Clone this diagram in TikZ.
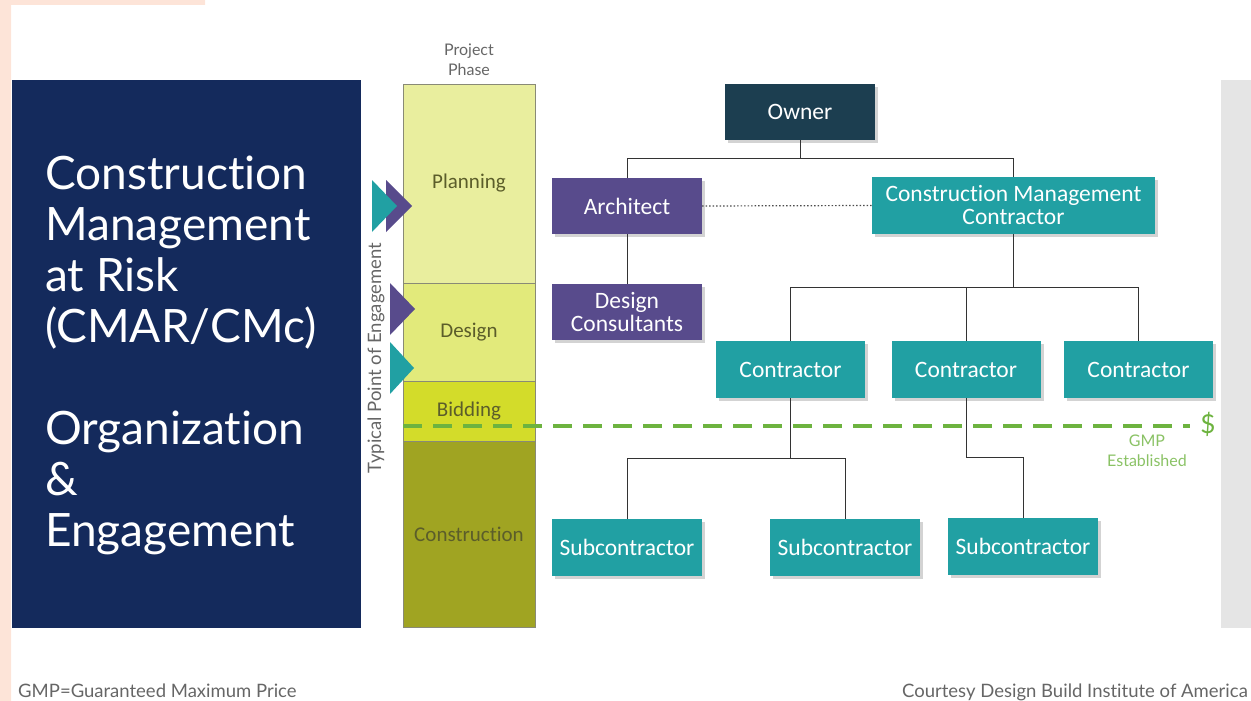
\documentclass[tikz,border=0pt]{standalone}
\usepackage{fontspec}
\setmainfont{Lato}[Ligatures=NoCommon]
\newfontfamily\boxfont{Carlito}[Ligatures=NoCommon]
\usetikzlibrary{positioning, shadows}

\definecolor{titleblue}{HTML}{142A5C}
\definecolor{ownerblue}{HTML}{1C3E50}
\definecolor{archpurple}{HTML}{584B8C}
\definecolor{cmteal}{HTML}{21A0A3}
\definecolor{planfill}{HTML}{E9EE9E}
\definecolor{designfill}{HTML}{E2EA7B}
\definecolor{bidfill}{HTML}{D3DC2A}
\definecolor{buildfill}{HTML}{A0A422}
\definecolor{phasetext}{HTML}{5B5D2A}
\definecolor{gmpgreen}{HTML}{6DB33F}
\definecolor{notegray}{HTML}{666666}
\definecolor{peach}{HTML}{FDE4D8}

\tikzset{
	orgbox/.style={minimum width=150pt, minimum height=56pt, inner sep=0pt, text=white, align=center,
		font=\boxfont\fontsize{23.5}{27}\selectfont,
		drop shadow={shadow xshift=3pt, shadow yshift=-3pt, opacity=0.35}},
	archbox/.style={orgbox, fill=archpurple},
	cmbox/.style={orgbox, fill=cmteal},
	phase/.style={draw=black!35!phasetext!60, minimum width=132pt, inner sep=0pt, outer sep=0pt,
		text=phasetext, font=\boxfont\fontsize{21}{24}\selectfont},
	conn/.style={draw=black!80, line width=0.9pt},
	gmp/.style={draw=gmpgreen, line width=4pt, dash pattern=on 19pt off 11pt},
	note/.style={text=notegray, font=\fontsize{18.5}{22}\selectfont, inner sep=0pt}
}

\begin{document}
\begin{tikzpicture}[x=1pt, y=-1pt]
	\useasboundingbox (0,0) rectangle (1251,701);
	\fill[peach] (0,0) rectangle (11,701) (0,0) rectangle (205,5);
	\fill[black!10] (1221,80) rectangle (1251,628);
	\fill[titleblue] (12,80) rectangle (361,628);

	\node[anchor=north west, inner sep=0pt, align=left, text=white, font=\fontsize{46}{51}\selectfont] (title) at (45,156)
		{Construction\\Management\\at Risk\\(CMAR/CMc)\\[51pt]Organization\\\&\\Engagement};

	% project phases
	\node[align=center, text=notegray, font=\fontsize{16}{20}\selectfont] (phasehead) at (469,60) {Project\\Phase};
	\node[phase, fill=planfill, minimum height=199pt] (plan) at (469,183.5) {Planning};
	\node[phase, fill=designfill, minimum height=98pt, below=0pt of plan] (design) {Design};
	\node[phase, fill=bidfill, minimum height=60pt, below=0pt of design] (bid) {Bidding};
	\node[phase, fill=buildfill, minimum height=186pt, below=0pt of bid] (build) {Construction};
	\node[rotate=90, text=notegray, font=\fontsize{18.5}{22}\selectfont] (engage) at (376,358) {Typical Point of Engagement};

	\fill[archpurple] (386,180) -- (412,206) -- (386,232) -- cycle;
	\fill[cmteal] (372,180) -- (397,206) -- (372,232) -- cycle;
	\fill[archpurple] (390,283) -- (415,309) -- (390,335) -- cycle;
	\fill[cmteal] (390,342) -- (414,368) -- (390,394) -- cycle;

	% organization
	\node[orgbox, fill=ownerblue] (owner) at (800,112) {Owner};
	\node[archbox] (architect) at (627,206) {Architect};
	\node[archbox, below=50pt of architect] (consult) {Design\\[-4pt]Consultants};
	\node[cmbox, minimum width=283pt, minimum height=57pt] (cmc) at (1013.5,205.5) {Construction Management\\[-4pt]Contractor};
	\node[cmbox, minimum width=149pt, minimum height=57pt] (con1) at (790.5,369.5) {Contractor};
	\node[cmbox, minimum width=149pt, minimum height=57pt] (con2) at (966,369.5) {Contractor};
	\node[cmbox, minimum width=149pt, minimum height=57pt] (con3) at (1138.5,369.5) {Contractor};
	\node[cmbox, minimum height=57pt] (sub1) at (627,547.5) {Subcontractor};
	\node[cmbox, minimum height=57pt] (sub2) at (845,547.5) {Subcontractor};
	\node[cmbox, minimum height=57pt] (sub3) at (1023,546.5) {Subcontractor};

	\draw[conn]
		(owner.south) -- ++(0,18) -| (architect.north)
		(owner.south) -- ++(0,18) -| (cmc.north)
		(architect.south) -- (consult.north)
		(cmc.south) -- ++(0,53) -| (con1.north)
		(cmc.south) -- ++(0,53) -| (con2.north)
		(cmc.south) -- ++(0,53) -| (con3.north)
		(con1.south) -- ++(0,60) -| (sub1.north)
		(con1.south) -- ++(0,60) -| (sub2.north)
		(con2.south) -- ++(0,59) -| (sub3.north);
	\draw[conn, draw=black!70, line width=1.2pt, dash pattern=on 1.5pt off 2pt] (architect.east) -- (cmc.west);

	% GMP line
	\node[text=gmpgreen, font=\fontsize{26}{30}\selectfont, inner sep=0pt] (dollar) at (1208,424) {\$};
	\node[align=center, text=gmpgreen!80!white, font=\fontsize{16}{20}\selectfont] (gmptext) at (1147,451) {GMP\\Established};
	\coordinate (gmpstart) at (403,426);
	\draw[gmp] (gmpstart) -- ([xshift=-10pt]dollar.west |- gmpstart);

	\node[note, anchor=base west] (gmpnote) at (18,697) {GMP=Guaranteed Maximum Price};
	\node[note, anchor=base east] (credit) at (1248,697) {Courtesy Design Build Institute of America};
\end{tikzpicture}
\end{document}
